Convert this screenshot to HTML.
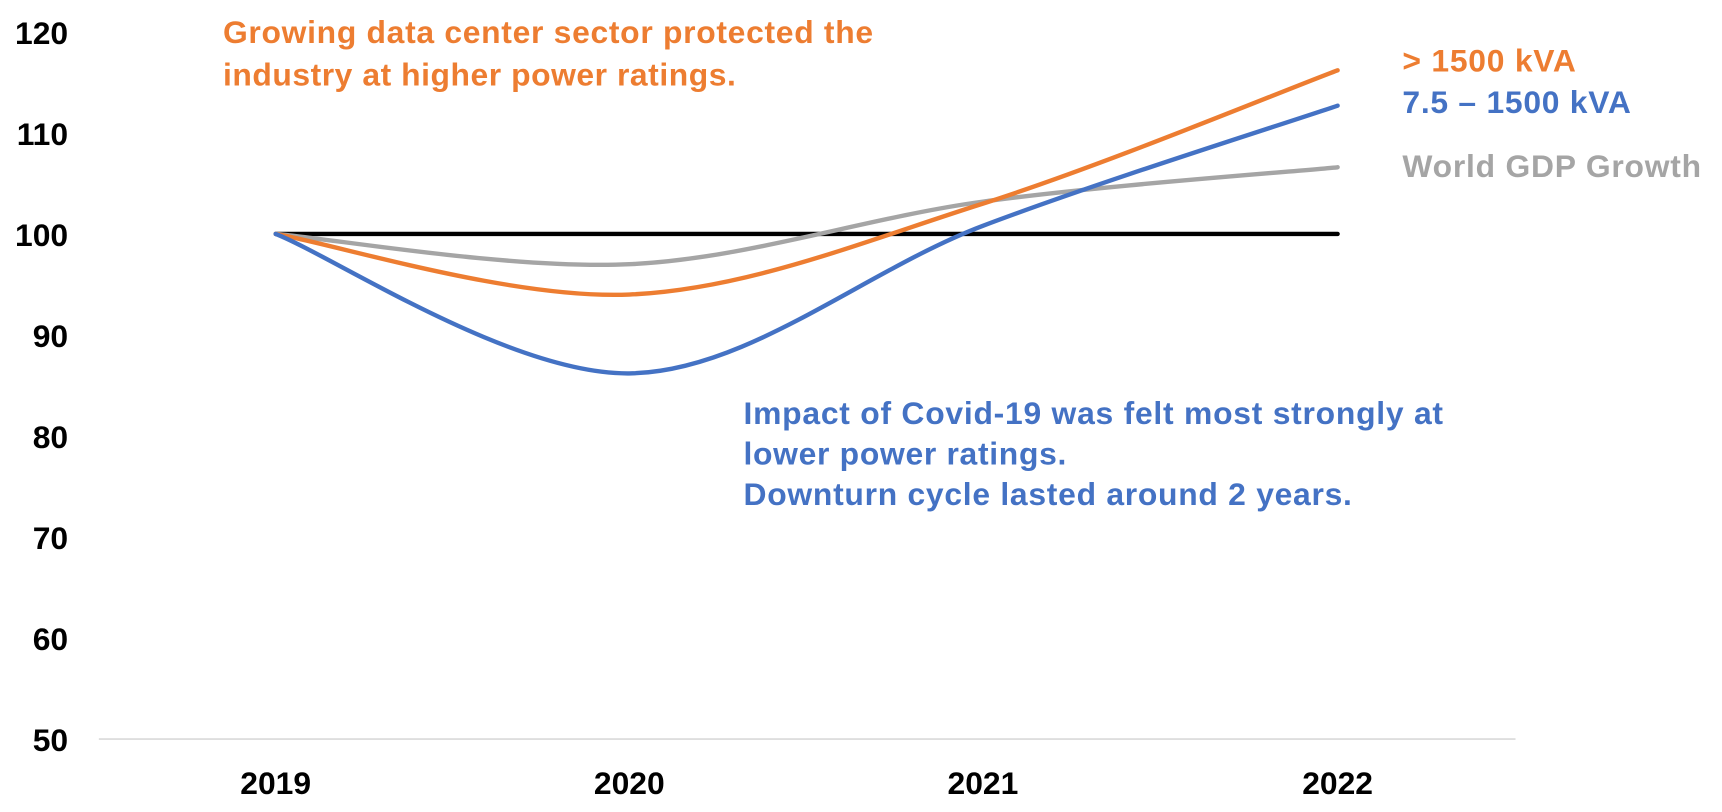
<!DOCTYPE html>
<html><head><meta charset="utf-8"><style>
html,body{margin:0;padding:0;background:#fff;}
svg{display:block;}
text{font-family:"Liberation Sans",Arial,sans-serif;font-weight:bold;}
</style></head><body>
<svg width="1722" height="812" viewBox="0 0 1568 739.4" xmlns="http://www.w3.org/2000/svg">
<g font-size="29" fill="#000" text-anchor="end">
<text x="62" y="40">120</text>
<text x="62" y="132">110</text>
<text x="62" y="224">100</text>
<text x="62" y="316">90</text>
<text x="62" y="408">80</text>
<text x="62" y="500">70</text>
<text x="62" y="592">60</text>
<text x="62" y="684">50</text>
</g>
<line x1="90" y1="673" x2="1380" y2="673" stroke="#d9d9d9" stroke-width="1.5"/>
<g font-size="29" fill="#000" text-anchor="middle">
<text x="251" y="723">2019</text>
<text x="573" y="723">2020</text>
<text x="895" y="723">2021</text>
<text x="1218" y="723">2022</text>
</g>
<line x1="251" y1="213" x2="1218" y2="213" stroke="#000" stroke-width="4" stroke-linecap="round"/>
<g fill="none" stroke-width="4" stroke-linecap="round">
<path stroke="#A5A5A5" d="M251,213 C304.7,217.6 465.7,245.5 573,240.6 C680.3,235.7 787.5,198.3 895,183.6 C1002.5,168.9 1164.2,157.5 1218,152.3"/>
<path stroke="#ED7D31" d="M251,213 C304.7,222.2 465.7,272.8 573,268.2 C680.3,263.6 787.5,219.4 895,185.4 C1002.5,151.4 1164.2,84.2 1218,64"/>
<path stroke="#4472C4" d="M251,213 C304.7,234.2 465.7,341.2 573,340 C680.3,338.8 787.5,246.2 895,205.6 C1002.5,165 1164.2,114.4 1218,96.2"/>
</g>
<g font-size="29" fill="#ED7D31">
<text x="203" y="39" textLength="592" lengthAdjust="spacing">Growing data center sector protected the</text>
<text x="203" y="78" textLength="467" lengthAdjust="spacing">industry at higher power ratings.</text>
<text x="1277" y="65" textLength="158" lengthAdjust="spacing">&gt; 1500 kVA</text>
</g>
<g font-size="29" fill="#4472C4">
<text x="1277" y="103" textLength="208" lengthAdjust="spacing">7.5 – 1500 kVA</text>
<text x="677" y="386" textLength="637" lengthAdjust="spacing">Impact of Covid-19 was felt most strongly at</text>
<text x="677" y="423" textLength="294" lengthAdjust="spacing">lower power ratings.</text>
<text x="677" y="460" textLength="554" lengthAdjust="spacing">Downturn cycle lasted around 2 years.</text>
</g>
<text x="1277" y="161" font-size="29" fill="#A5A5A5" textLength="272" lengthAdjust="spacing">World GDP Growth</text>
</svg>
</body></html>
